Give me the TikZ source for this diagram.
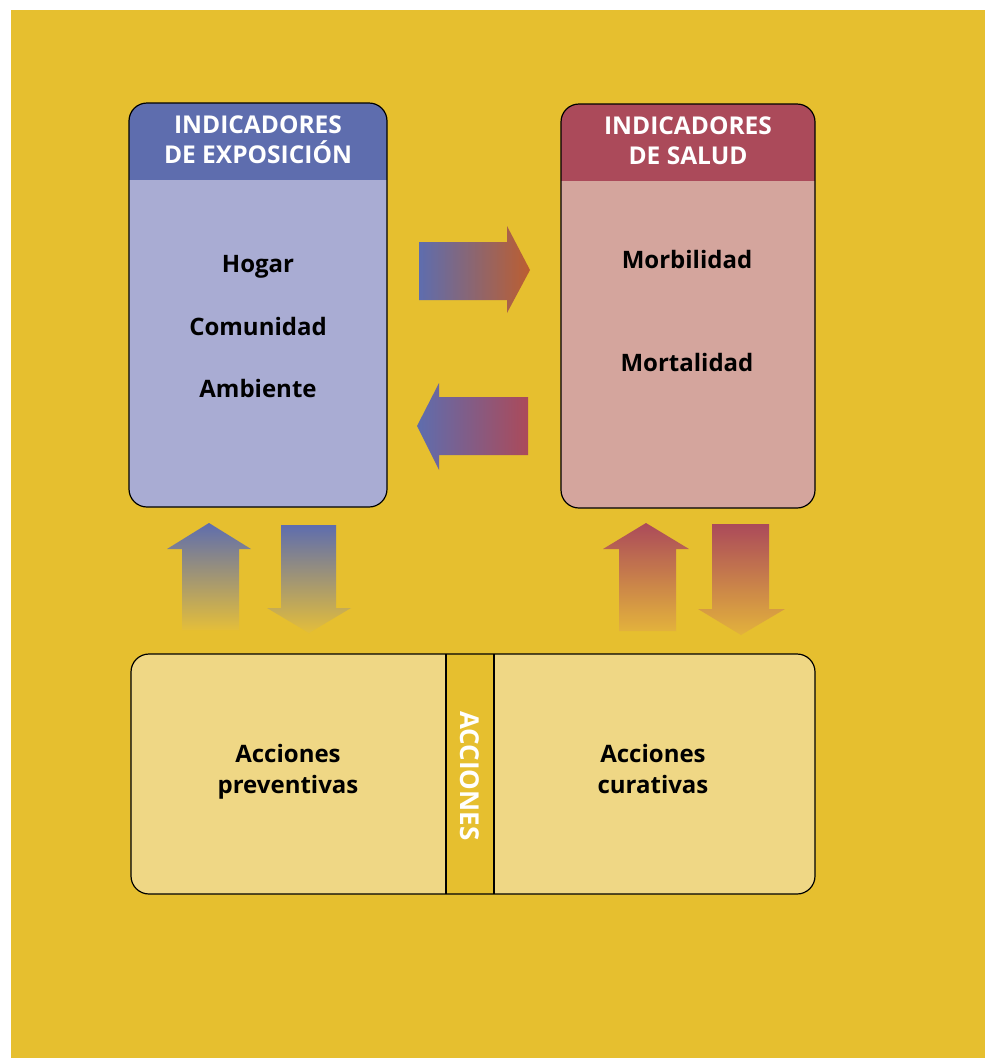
\documentclass[tikz,border=0pt]{standalone}
\usepackage{fontspec}
\setmainfont{Open Sans}
\usepackage{tikz}
\usetikzlibrary{positioning}
\definecolor{bgyellow}{HTML}{E6BF2F}
\definecolor{lightyellow}{HTML}{EFD785}
\definecolor{headblue}{HTML}{5E6DAE}
\definecolor{bodyblue}{HTML}{A9ACD3}
\definecolor{headred}{HTML}{AB4A5A}
\definecolor{bodypink}{HTML}{D4A59D}
\definecolor{flowrust}{HTML}{BC5E30}
\definecolor{fadeyellow}{HTML}{E4BE3A}
\definecolor{fadeorange}{HTML}{E3B23C}
\tikzstyle{box} = [rectangle, rounded corners=18pt, draw=black, line width=1.2pt, inner sep=0pt, minimum height=404pt]
\tikzstyle{headtext} = [text=white, align=center, inner sep=0pt, font=\fontsize{24.5}{30}\selectfont\bfseries]
\tikzstyle{item} = [inner sep=0pt, text height=18pt, text depth=6pt, font=\fontsize{24}{30}\selectfont\bfseries]
\tikzstyle{action} = [inner sep=0pt, align=center, anchor=north, font=\fontsize{24}{31}\selectfont\bfseries]

\begin{document}
\begin{tikzpicture}[x=1pt, y=-1pt, node distance=62.5pt]

    \useasboundingbox (0,0) rectangle (985,1058);
    \fill[white] (0,0) rectangle (985,1058);
    \fill[bgyellow] (11,10) rectangle (985,1058);

    % indicator boxes
    \node (expo) [box, fill=bodyblue, minimum width=258pt,
        path picture={\fill[headblue, sharp corners] (path picture bounding box.north west) rectangle ([yshift=-77pt]path picture bounding box.north east);}] at (258,305) {};
    \node (salud) [box, fill=bodypink, minimum width=254pt,
        path picture={\fill[headred, sharp corners] (path picture bounding box.north west) rectangle ([yshift=-77pt]path picture bounding box.north east);}] at (688,306) {};

    \node (expohead) [headtext] at ([yshift=-37pt]expo.north) {INDICADORES\\DE EXPOSICIÓN};
    \node (saludhead) [headtext] at ([yshift=-37pt]salud.north) {INDICADORES\\DE SALUD};

    \node (hogar) [item] at (258,266.5) {Hogar};
    \node (comunidad) [item, below of=hogar] {Comunidad};
    \node (ambiente) [item, below of=comunidad] {Ambiente};

    \node (morb) [item] at (687,262.5) {Morbilidad};
    \node (mort) [item, below of=morb, node distance=103pt] {Mortalidad};

    % actions box
    \node (acc) [box, fill=lightyellow, minimum width=684pt, minimum height=240pt,
        path picture={
            \fill[bgyellow, sharp corners] ([xshift=-27pt]path picture bounding box.north) rectangle ([xshift=21pt]path picture bounding box.south);
            \draw[line width=1.2pt] ([xshift=-27pt]path picture bounding box.north) -- ([xshift=-27pt]path picture bounding box.south);
            \draw[line width=1.2pt] ([xshift=21pt]path picture bounding box.north) -- ([xshift=21pt]path picture bounding box.south);}] at (473,774) {};

    \node (prev) [action] at (288,744.5) {Acciones\\preventivas};
    \node (cur) [action] at (653,744.5) {Acciones\\curativas};
    \node (accband) [rotate=-90, text=white, inner sep=0pt, font=\fontsize{26}{30}\selectfont\bfseries] at ([xshift=-3pt, yshift=-2pt]acc.center) {ACCIONES};

    % block arrows
    \shade[left color=headblue, right color=flowrust] (419,242) -- (507,242) -- (507,226) -- (530,270) -- (507,313) -- (507,300) -- (419,300) -- cycle;
    \shade[left color=headblue, right color=headred] (528,397) -- (439,397) -- (439,383) -- (417,426) -- (439,470) -- (439,455) -- (528,455) -- cycle;

    \shade[top color=headblue, bottom color=fadeyellow] (182,630) -- (182,549) -- (167,549) -- (209,523) -- (251,549) -- (239,549) -- (239,630) -- cycle;
    \shade[top color=headblue, bottom color=fadeyellow] (281,525) -- (336,525) -- (336,608) -- (351,608) -- (309,633) -- (267,608) -- (281,608) -- cycle;

    \shade[top color=headred, bottom color=fadeorange] (619,631) -- (619,549) -- (603,549) -- (646,523) -- (689,549) -- (676,549) -- (676,631) -- cycle;
    \shade[top color=headred, bottom color=fadeorange] (712,524) -- (769,524) -- (769,609) -- (785,609) -- (741,635) -- (698,609) -- (712,609) -- cycle;

\end{tikzpicture}
\end{document}
